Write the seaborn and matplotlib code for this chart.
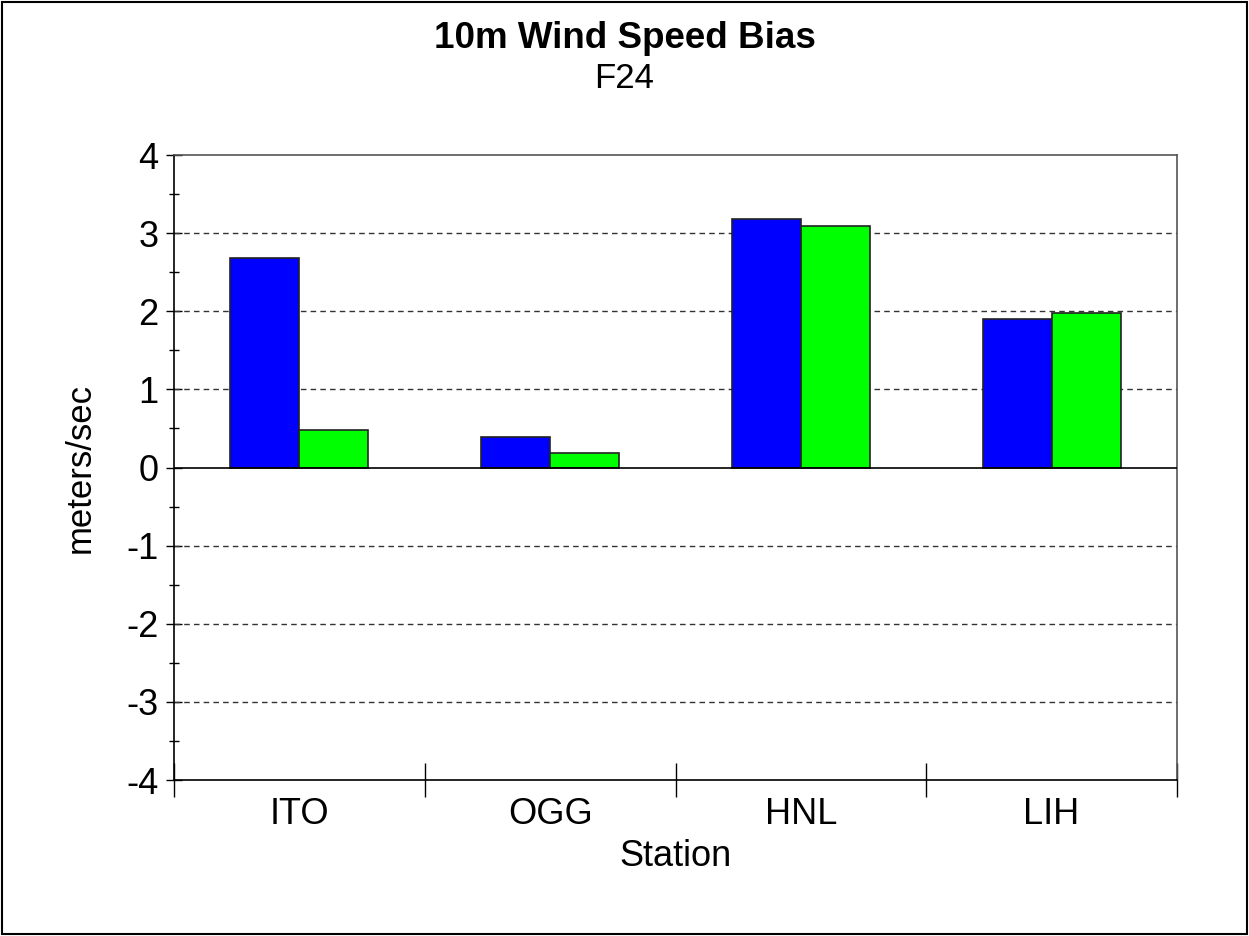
import pandas as pd
import matplotlib.pyplot as plt
import seaborn as sns
from matplotlib.patches import Rectangle

stations = ['ITO', 'OGG', 'HNL', 'LIH']
series_names = ['A', 'B']
bias_a = [2.68, 0.39, 3.18, 1.90]
bias_b = [0.48, 0.19, 3.09, 1.98]
yticks = [-4, -3, -2, -1, 0, 1, 2, 3, 4]

df = pd.DataFrame({
    'station': stations * 2,
    'series': [series_names[0]] * 4 + [series_names[1]] * 4,
    'bias': bias_a + bias_b,
})

sns.set_style('white')
plt.rcParams['font.family'] = ['Liberation Sans', 'DejaVu Sans']
plt.rcParams['axes.unicode_minus'] = False
plt.rcParams['text.color'] = 'black'
plt.rcParams['axes.labelcolor'] = 'black'
plt.rcParams['xtick.color'] = 'black'
plt.rcParams['ytick.color'] = 'black'

fig = plt.figure(figsize=(12.49, 9.36), dpi=100)
ax = fig.add_axes([174 / 1249, 1 - 780 / 936, (1177 - 174) / 1249, (780 - 155) / 936])

sns.barplot(data=df, x='station', y='bias', hue='series', order=stations,
            palette=['#0000FF', '#00FF00'], width=0.55, edgecolor='#222222',
            linewidth=1.2, saturation=1, legend=False, ax=ax, zorder=3)

ax.set_xlim(-0.5, 3.5)
ax.set_ylim(-4, 4)
ax.set_yticks(yticks)
ax.set_yticks([v + 0.5 for v in yticks[:-1]], minor=True)
ax.set_xticks(range(len(stations)))
ax.set_xticklabels(stations)
ax.set_xticks([i - 0.5 for i in range(len(stations) + 1)], minor=True)

for v in yticks[1:-1]:
    if v == 0:
        ax.axhline(0, color='black', lw=1.2, zorder=4)
    else:
        ax.axhline(v, color='#333333', lw=1, ls=(0, (4, 3)), zorder=1)

ax.tick_params(axis='y', which='major', direction='inout', length=12, width=1,
               labelsize=26, pad=5, left=True)
ax.tick_params(axis='y', which='minor', direction='inout', length=7, width=1, left=True)
ax.tick_params(axis='x', which='major', length=0, labelsize=26, pad=12)
ax.tick_params(axis='x', which='minor', direction='inout', length=24, width=1, bottom=True)

for side in ['top', 'right']:
    ax.spines[side].set_color('#555555')
for side in ['left', 'bottom']:
    ax.spines[side].set_color('black')
for s in ax.spines.values():
    s.set_linewidth(1.2)

ax.set_xlabel('Station', fontsize=26, labelpad=5)
ax.set_ylabel('meters/sec', fontsize=25, labelpad=21)

fig.text(0.5, 1 - 38 / 936, '10m Wind Speed Bias', ha='center', va='center',
         fontsize=26.5, fontweight='bold')
fig.text(0.5, 1 - 79 / 936, 'F24', ha='center', va='center', fontsize=25)

fig.patches.append(Rectangle((0.002, 0.002), 0.996, 0.996, transform=fig.transFigure,
                             fill=False, edgecolor='black', lw=1.5))

fig.savefig('out.png', dpi=100)
